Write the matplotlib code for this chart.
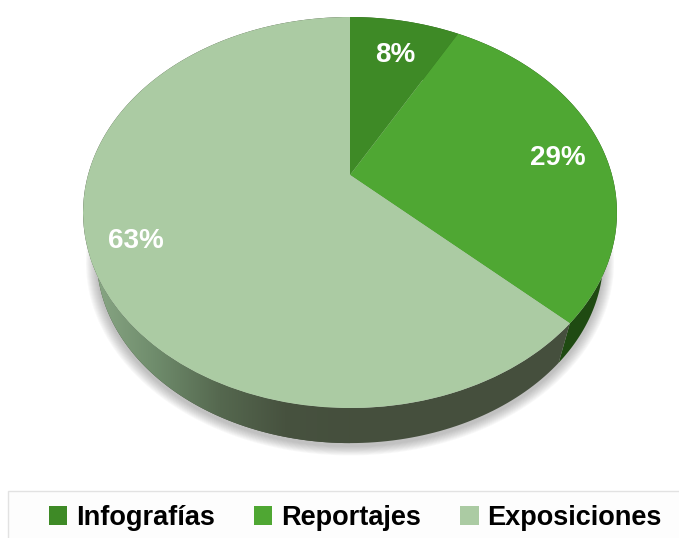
import numpy as np
import matplotlib
matplotlib.use("Agg")
import matplotlib.pyplot as plt
from matplotlib.colors import LinearSegmentedColormap
from matplotlib.patches import Rectangle
from matplotlib.transforms import Affine2D, Transform

labels = ["Infografías", "Reportajes", "Exposiciones"]
values = [8, 29, 63]
colors = ["#3e8a26", "#4fa733", "#abcba3"]
side_colors = ["#2a5c1a", "#1f4a12", None]
# nudges for the percent labels, pixels
label_nudge = [(-1, 10), (1, 7), (-4, 1)]

plt.rcParams["font.family"] = ["Liberation Sans", "DejaVu Sans"]

W, H = 679, 538
# tilted disc, numbers in pixels
CX, CY = 350, 175
A, B, K = 262, 188.3, 0.1918
DROP, SHRINK = 222, 0.949


class Tilt(Transform):
    # unit circle -> pixel coords with perspective, far edge at the top
    input_dims = output_dims = 2

    def __init__(self, cy=CY, scale=1.0):
        super().__init__()
        self.cy = cy
        self.scale = scale

    def transform_non_affine(self, xy):
        xy = np.asarray(xy, float)
        w = 1 + K * xy[:, 1]
        return np.column_stack([CX + self.scale * A * xy[:, 0] / w,
                                self.cy - self.scale * B * xy[:, 1] / w])


def rim(t1, t2, tilt, n=200):
    t = np.radians(np.linspace(t1, t2, n))
    return tilt.transform(np.column_stack([np.cos(t), np.sin(t)]))


fig = plt.figure(figsize=(W / 100, H / 100), dpi=100)
ax = fig.add_axes([0, 0, 1, 1])

top = Tilt()
low = Tilt(DROP, SHRINK)
wedges, _, pct = ax.pie(values, colors=colors, startangle=90, counterclock=False,
                        autopct="%d%%", pctdistance=0.82,
                        wedgeprops={"transform": top + ax.transData, "linewidth": 0, "zorder": 5})
ax.set_aspect("auto")
ax.set_xlim(0, W)
ax.set_ylim(H, 0)
ax.axis("off")

for t, (dx, dy) in zip(pct, label_nudge):
    t.set_transform(top + Affine2D().translate(dx, dy) + ax.transData)
    t.set(color="white", fontsize=20, fontweight="bold", zorder=6)

# soft shadow under the side wall
for grow in np.arange(1, 12):
    sh = Tilt(DROP + 3, SHRINK * (1 + grow / 260))
    ax.fill(*rim(0, 360, sh).T, color="#505050", alpha=0.035, lw=0, zorder=1)

# side wall, one piece per slice
edges = 90 - np.cumsum([0] + values) * 3.6
gradient = LinearSegmentedColormap.from_list(
    "wall", [(0, "#8aa886"), (0.25, "#6f8c6c"), (0.5, "#55684f"), (0.75, "#47523f"), (1, "#454f3d")])
for i in range(len(values)):
    upper = rim(edges[i], edges[i + 1], top)
    lower = rim(edges[i], edges[i + 1], low)
    outline = np.vstack([upper, lower[::-1]])
    poly = ax.fill(*outline.T, color=side_colors[i] or "#454f3d", lw=0, zorder=3)[0]
    if side_colors[i] is None:
        im = ax.imshow(np.linspace(0, 1, 256)[None, :], cmap=gradient, aspect="auto",
                       extent=(90, 350, 450, 200), zorder=3.5)
        im.set_clip_path(poly)
ax.set_xlim(0, W)
ax.set_ylim(H, 0)

# legend box runs off the bottom and right of the image
ax.add_patch(Rectangle((8, 491), W, 60, facecolor="#fdfdfd", edgecolor="#e2e2e2", lw=1, zorder=1))
ax.legend(wedges, labels, ncol=3, loc="center left", bbox_to_anchor=(49, 518),
          bbox_transform=ax.transData, frameon=False, borderpad=0, borderaxespad=0,
          handlelength=0.67, handleheight=0.67, handletextpad=0.33, columnspacing=1.45,
          prop={"family": "Liberation Sans", "weight": "bold", "size": 19.5})

fig.savefig("out.png", dpi=100)
